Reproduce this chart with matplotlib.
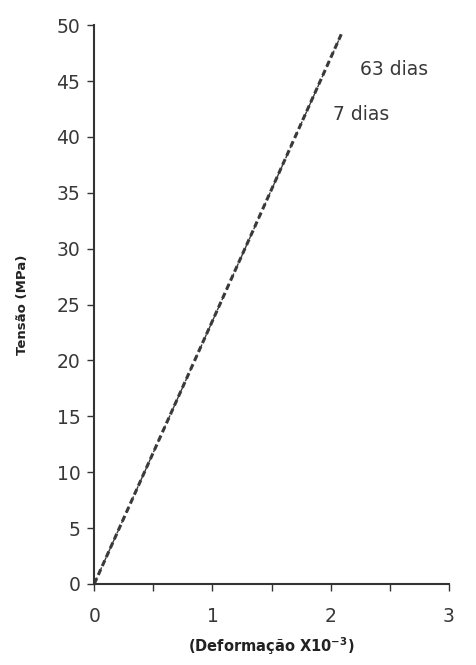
import matplotlib
matplotlib.use("Agg")
import matplotlib.pyplot as plt

# Data
strain_63 = [0.0, 2.09]
stress_63 = [0.0, 49.2]
strain_7 = [0.0, 2.07]
stress_7 = [0.0, 48.7]
x_major = [0, 1, 2, 3]
x_minor = [0.5, 1.5, 2.5]
y_ticks = [0, 5, 10, 15, 20, 25, 30, 35, 40, 45, 50]
labels = ["63 dias", "7 dias"]
label_pos_x = [2.25, 2.02]
label_pos_y = [46.0, 42.0]

plt.rcParams['font.family'] = ['DejaVu Sans']
fig = plt.figure(figsize=(4.76, 6.65), dpi=100)
ax = fig.add_axes([0.198, 0.122, 0.745, 0.840])

ax.plot(strain_63, stress_63, color='#3a3a3a', lw=2.2, dashes=(2.0, 1.2))
ax.plot(strain_7, stress_7, color='#3a3a3a', lw=1.0, dashes=(5, 3))

for t, xx, yy in zip(labels, label_pos_x, label_pos_y):
    ax.text(xx, yy, t, fontsize=13.5, color='#383838', va='center', ha='left')

ax.set_xlim(0, 3)
ax.set_ylim(0, 50)
ax.set_xticks(x_major)
ax.set_xticks(x_minor, minor=True)
ax.set_yticks(y_ticks)
ax.tick_params(axis='both', which='both', direction='out', length=5, width=1, colors='#333333', labelsize=13.5, labelcolor='#383838')
ax.tick_params(axis='x', pad=12)
ax.tick_params(axis='y', pad=5)
for s in ['top', 'right']:
    ax.spines[s].set_visible(False)
for s in ['left', 'bottom']:
    ax.spines[s].set_color('#333333')
    ax.spines[s].set_linewidth(1.5)

ax.set_ylabel('Tensão (MPa)', fontsize=9.5, fontweight='bold', color='#222222', labelpad=20)
ax.set_xlabel('(Deformação X10$^{\\mathbf{-3}}$)', fontsize=10.5, fontweight='bold', color='#222222', labelpad=6)

fig.savefig('out.png', dpi=100, facecolor='white')
